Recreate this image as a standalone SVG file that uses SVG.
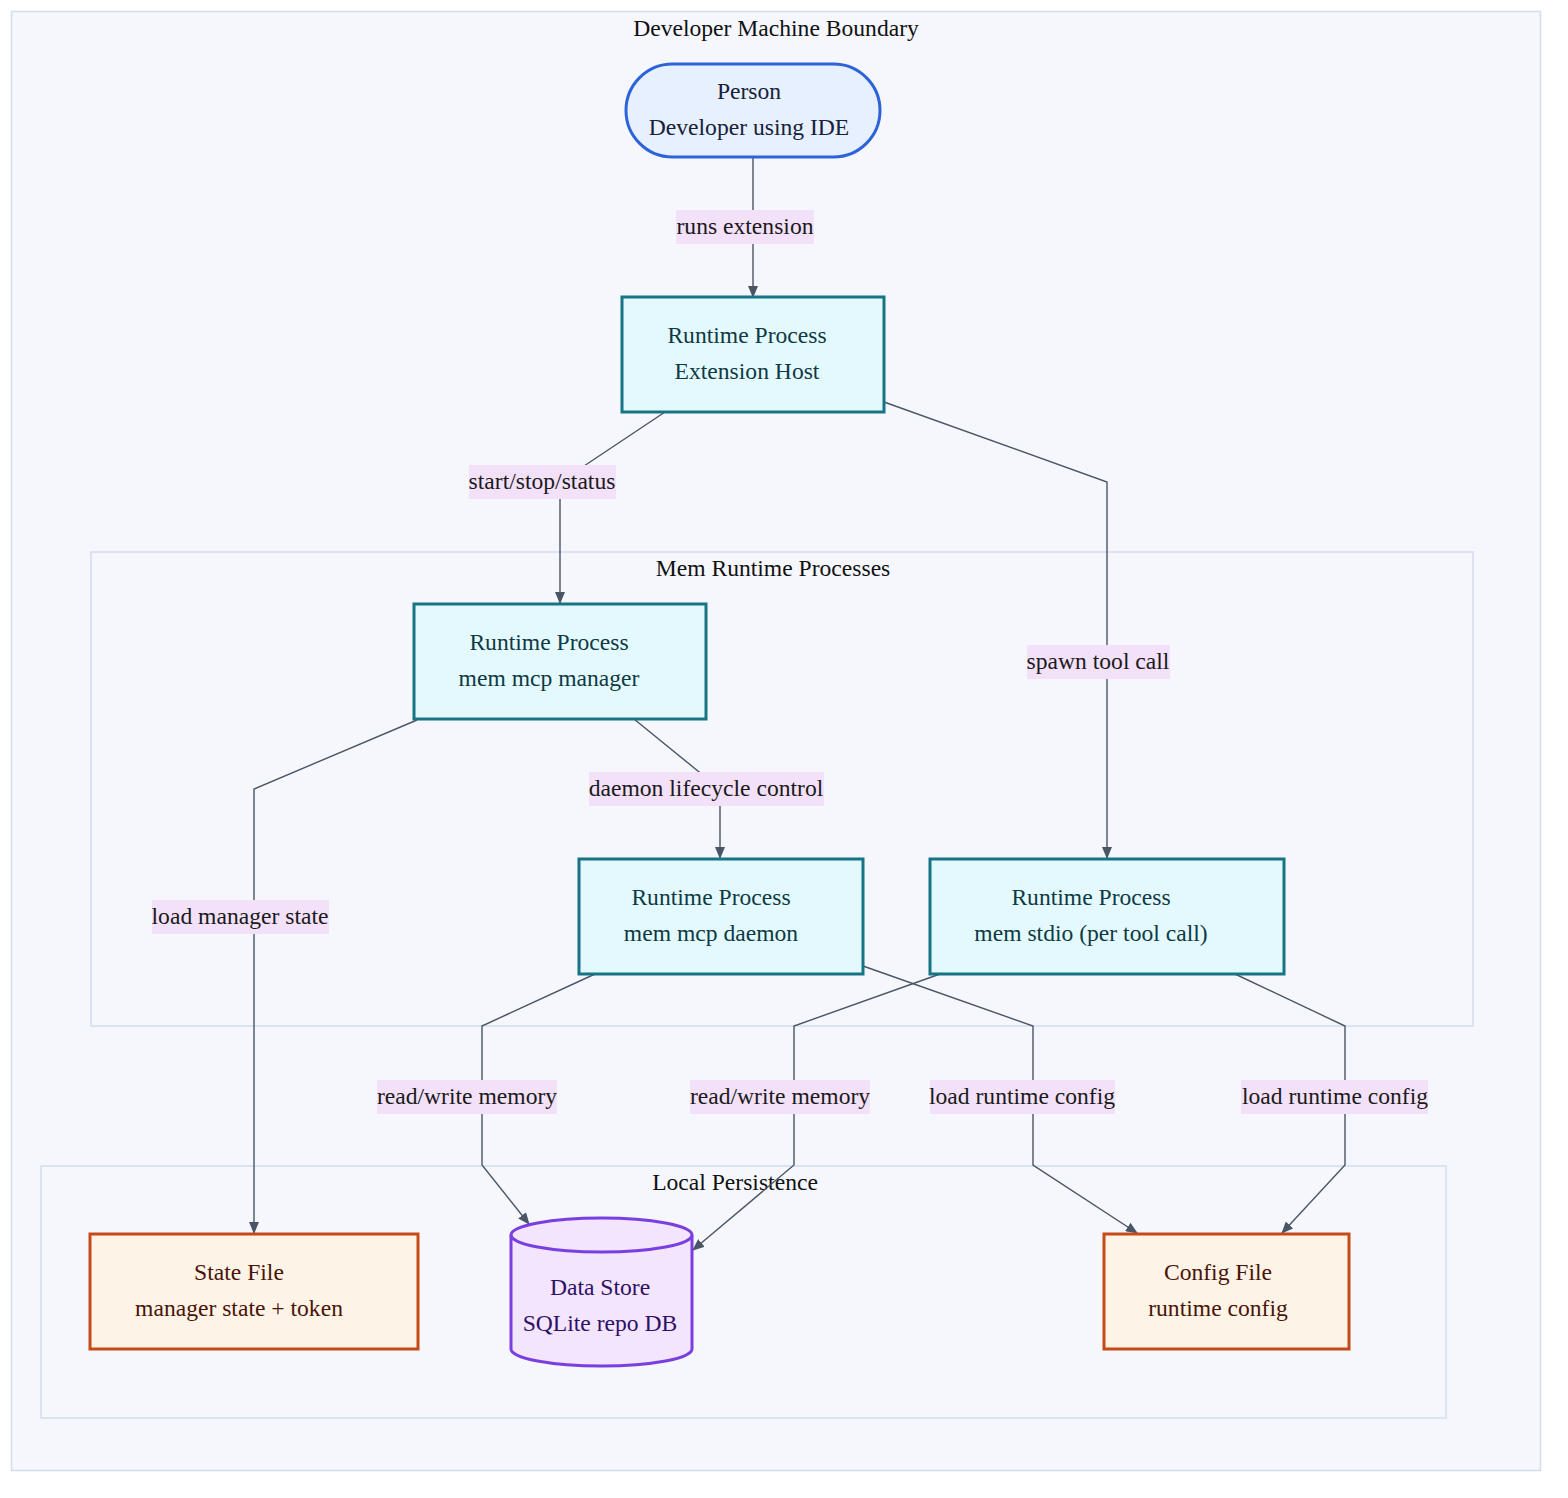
<svg xmlns="http://www.w3.org/2000/svg" width="1568" height="1498" viewBox="0 0 1568 1498">
<defs>
<marker id="arr" viewBox="0 0 12 10" refX="11" refY="5" markerWidth="12" markerHeight="10" markerUnits="userSpaceOnUse" orient="auto">
<path d="M0,0 L12,5 L0,10 z" fill="#4a5565"/>
</marker>
</defs>
<style>
text{font-family:"Liberation Serif","Times New Roman",serif;font-size:23.6px;text-anchor:middle;dominant-baseline:central}
.cluster{fill:#f5f7fd;stroke:#d3dced;stroke-width:1.5}
.title{fill:#111}
.proc rect{fill:#e4f9fd;stroke:#167483;stroke-width:3}
.proc text{fill:#0d3a44}
.file rect{fill:#fdf3e6;stroke:#c64a16;stroke-width:3}
.file text{fill:#4a1406}
.edges path{fill:none;stroke:#4a5565;stroke-width:1.4;marker-end:url(#arr)}
.lbl rect{fill:#f3e1f9}
.lbl text{fill:#1a1a1a}
</style>
<rect width="1568" height="1498" fill="#ffffff"/>
<g id="boundary">
<rect class="cluster" x="11.5" y="11.5" width="1529" height="1459"/>
<text class="title" x="776" y="28">Developer Machine Boundary</text>
</g>
<g id="mem-runtime">
<rect class="cluster" x="91" y="552" width="1382" height="474"/>
<text class="title" x="773" y="568">Mem Runtime Processes</text>
</g>
<g id="local-persistence">
<rect class="cluster" x="41" y="1166" width="1405" height="252"/>
<text class="title" x="735" y="1182">Local Persistence</text>
</g>
<g class="edges" id="connectors">
<path d="M753,157 L753,297"/>
<path d="M665,412 L560,482 L560,603"/>
<path d="M884,402 L1107,482 L1107,858"/>
<path d="M634,719 L720,789 L720,858"/>
<path d="M417,720 L254,789 L254,1233"/>
<path d="M595,974 L482,1026 L482,1165 L529,1224"/>
<path d="M863,966 L1033,1026 L1033,1165 L1137,1233"/>
<path d="M940,974 L794,1026 L794,1165 L693,1250"/>
<path d="M1235,974 L1345,1026 L1345,1165 L1282,1233"/>
</g>
<g id="edge-labels">
<g class="lbl"><rect x="676" y="210" width="138" height="34"/><text x="745" y="226">runs extension</text></g>
<g class="lbl"><rect x="469" y="465" width="147" height="34"/><text x="542" y="481">start/stop/status</text></g>
<g class="lbl"><rect x="1027" y="645" width="143" height="34"/><text x="1098" y="661">spawn tool call</text></g>
<g class="lbl"><rect x="589" y="772" width="235" height="34"/><text x="706" y="788">daemon lifecycle control</text></g>
<g class="lbl"><rect x="152" y="900" width="177" height="34"/><text x="240" y="916">load manager state</text></g>
<g class="lbl"><rect x="377" y="1080" width="180" height="34"/><text x="467" y="1096">read/write memory</text></g>
<g class="lbl"><rect x="690" y="1080" width="180" height="34"/><text x="780" y="1096">read/write memory</text></g>
<g class="lbl"><rect x="930" y="1080" width="185" height="34"/><text x="1022" y="1096">load runtime config</text></g>
<g class="lbl"><rect x="1241" y="1080" width="187" height="34"/><text x="1335" y="1096">load runtime config</text></g>
</g>
<g id="person">
<rect x="626" y="64" width="254" height="93" rx="46.5" fill="#e6f0fe" stroke="#2d63d8" stroke-width="3"/>
<text x="749" y="91" fill="#16213a">Person</text>
<text x="749" y="127" fill="#16213a">Developer using IDE</text>
</g>
<g id="extension-host" class="proc">
<rect x="622" y="297" width="262" height="115"/>
<text x="747" y="335">Runtime Process</text>
<text x="747" y="371">Extension Host</text>
</g>
<g id="mcp-manager" class="proc">
<rect x="414" y="604" width="292" height="115"/>
<text x="549" y="642">Runtime Process</text>
<text x="549" y="678">mem mcp manager</text>
</g>
<g id="mcp-daemon" class="proc">
<rect x="579" y="859" width="284" height="115"/>
<text x="711" y="897">Runtime Process</text>
<text x="711" y="933">mem mcp daemon</text>
</g>
<g id="stdio" class="proc">
<rect x="930" y="859" width="354" height="115"/>
<text x="1091" y="897">Runtime Process</text>
<text x="1091" y="933">mem stdio (per tool call)</text>
</g>
<g id="state-file" class="file">
<rect x="90" y="1234" width="328" height="115"/>
<text x="239" y="1272">State File</text>
<text x="239" y="1308">manager state + token</text>
</g>
<g id="data-store">
<path d="M511,1235 A90.5,17 0 0 1 692,1235 L692,1349 A90.5,17 0 0 1 511,1349 Z" fill="#f3e5fd" stroke="#7a3fe0" stroke-width="3"/>
<path d="M511,1235 A90.5,17 0 0 0 692,1235" fill="none" stroke="#7a3fe0" stroke-width="3"/>
<text x="600" y="1287" fill="#2e1065">Data Store</text>
<text x="600" y="1323" fill="#2e1065">SQLite repo DB</text>
</g>
<g id="config-file" class="file">
<rect x="1104" y="1234" width="245" height="115"/>
<text x="1218" y="1272">Config File</text>
<text x="1218" y="1308">runtime config</text>
</g>
</svg>
